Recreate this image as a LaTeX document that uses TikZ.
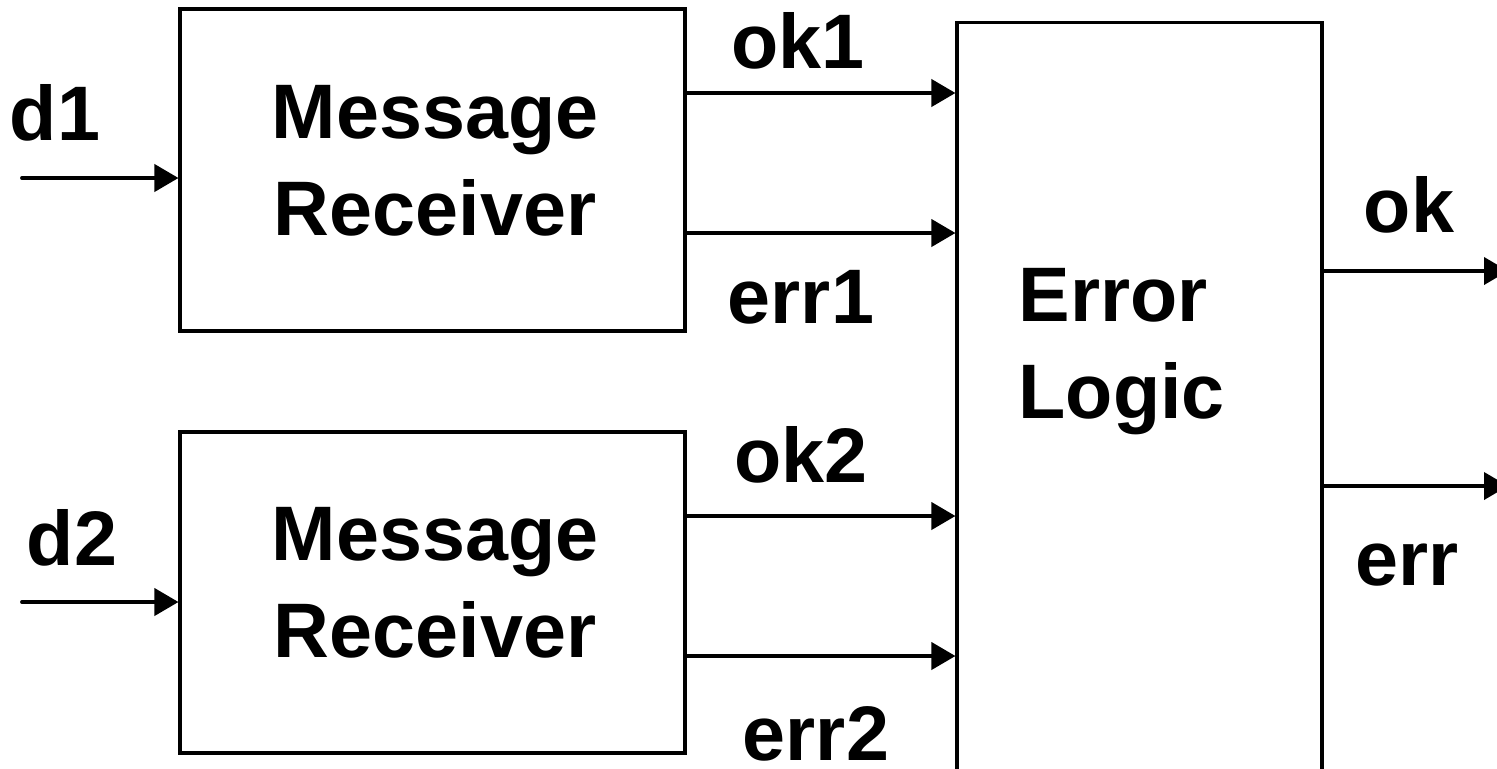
\documentclass[tikz,border=0pt]{standalone}
\usepackage{fontspec}
\setmainfont{Liberation Sans}
\usetikzlibrary{arrows.meta}

\begin{document}
\begin{tikzpicture}[x=0.02cm, y=-0.02cm, line width=1.8pt,
    font=\fontsize{44}{55}\selectfont\bfseries,
    sig/.style={line width=2.2pt, line cap=round, -{Triangle[length=0.48cm, width=0.54cm]}},
    blk/.style={draw, black, rectangle, inner sep=0pt},
    txt/.style={inner sep=0pt, anchor=base}]
  \useasboundingbox (0,0) rectangle (1497,768);
  \clip (0,0) rectangle (1497,768);
  \newcommand{\rxmid}{432.5}

  \node[blk, minimum width=10.1cm, minimum height=6.44cm] at (\rxmid, 170) (rx1) {};
  \node[blk, minimum width=10.1cm, minimum height=6.42cm] at (\rxmid, 592.5) (rx2) {};
  \node[blk, minimum width=7.3cm, minimum height=16cm] at (1139.5, 422) (logic) {};

  \node[txt, align=center] at (435, 235) (rx1txt) {Message\\Receiver};
  \node[txt, align=center] at (435, 657) (rx2txt) {Message\\Receiver};
  \node[txt, align=left, anchor=base west] at (1017, 418) (logictxt) {Error\\Logic};

  \node[txt] at (55, 140) (d1) {d1};
  \node[txt] at (72, 565) (d2) {d2};
  \node[txt] at (798, 68) (ok1) {ok1};
  \node[txt] at (801, 323) (err1) {err1};
  \node[txt] at (801, 482) (ok2) {ok2};
  \node[txt, text depth=0pt] at (816, 760) (err2) {err2};
  \node[txt] at (1409, 232) (ok) {ok};
  \node[txt] at (1407, 585) (err) {err};

  \coordinate (d1in) at (22, 178);
  \coordinate (d2in) at (22, 602);
  \coordinate (okout) at (1508, 271);
  \coordinate (errout) at (1508, 486);

  \draw[sig] (d1in) -- (rx1.west |- d1in);
  \draw[sig] (d2in) -- (rx2.west |- d2in);
  \draw[sig] (rx1.east |- 0,93) -- (logic.west |- 0,93);
  \draw[sig] (rx1.east |- 0,233) -- (logic.west |- 0,233);
  \draw[sig] (rx2.east |- 0,516) -- (logic.west |- 0,516);
  \draw[sig] (rx2.east |- 0,656) -- (logic.west |- 0,656);
  \draw[sig] (logic.east |- okout) -- (okout);
  \draw[sig] (logic.east |- errout) -- (errout);

\end{tikzpicture}
\end{document}
